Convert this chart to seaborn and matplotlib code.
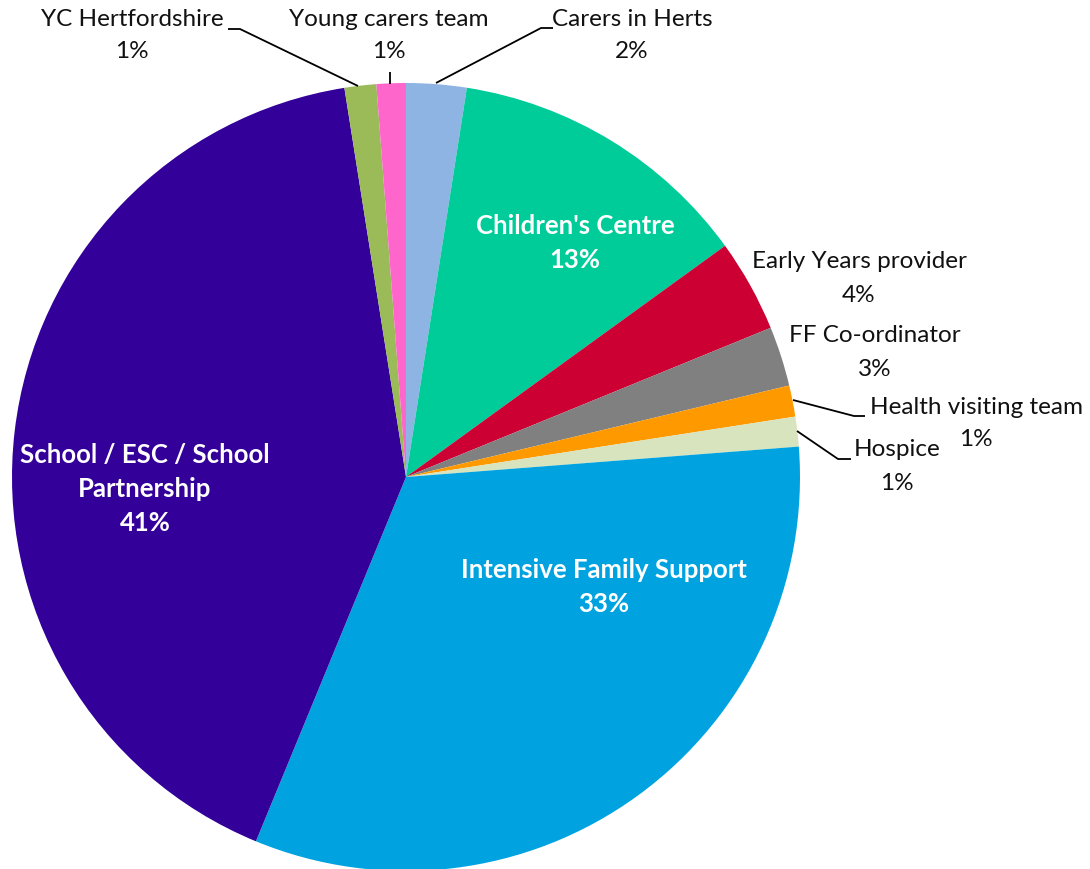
import matplotlib
matplotlib.use("Agg")
import matplotlib.pyplot as plt
import seaborn as sns

categories = ["Carers in Herts", "Children's Centre", "Early Years provider", "FF Co-ordinator",
              "Health visiting team", "Hospice", "Intensive Family Support",
              "School / ESC / School\nPartnership", "YC Hertfordshire", "Young carers team"]
values = [2.47, 12.55, 3.8, 2.45, 1.28, 1.22, 32.45, 41.28, 1.3, 1.2]
pct_labels = ["2%", "13%", "4%", "3%", "1%", "1%", "33%", "41%", "1%", "1%"]
colors = ["#8EB4E3", "#00CC99", "#CC0033", "#808080", "#FF9900", "#D7E4BD",
          "#00A3E0", "#330099", "#9BBB59", "#FF66CC"]

sns.set_theme(style="white")
plt.rcParams["font.family"] = ["Lato", "DejaVu Sans"]

W, H = 1090, 869
fig = plt.figure(figsize=(W / 100, H / 100), dpi=100)
ax = fig.add_axes([0, 0, 1, 1])

cx, cy, r = 406, 477, 394
wedges, _ = ax.pie(values, colors=colors, startangle=90, counterclock=False,
                   center=(cx, H - cy), radius=r, frame=False,
                   wedgeprops=dict(linewidth=0))
# flip wedges into a y-down coordinate system
for w in wedges:
    w.set_center((cx, cy))
    t1, t2 = w.theta1, w.theta2
    w.set_theta1(-t2)
    w.set_theta2(-t1)
ax.set_xlim(0, W)
ax.set_ylim(H, 0)
ax.set_aspect("equal")
ax.axis("off")

fs_in = 18.5
fs_out = 17.5
inside = {1: (575, 243), 6: (604, 587), 7: (145, 489)}
for i, (x, y) in inside.items():
    ax.text(x, y, f"{categories[i]}\n{pct_labels[i]}", ha="center", va="center",
            color="white", fontsize=fs_in, fontweight="bold", linespacing=1.5)

# outside labels: (x centre, y of first line, y of second line)
outside = {0: (632, 20, 52), 2: (859, 262, 295), 3: (875, 336, 369),
           4: (976, 408, 440), 5: (897, 450, 483),
           8: (132, 20, 52), 9: (389, 20, 52)}
for i, (x, y1, y2) in outside.items():
    ax.text(x, y1, categories[i], ha="center", va="center",
            color="#111111", fontsize=fs_out)
    ax.text(x, y2, pct_labels[i], ha="center", va="center",
            color="#111111", fontsize=fs_out)

lk = dict(color="black", linewidth=1.3, solid_capstyle="butt")
ax.plot([228, 240, 358], [29, 29, 86], **lk)
ax.plot([390, 390], [72, 84], **lk)
ax.plot([553, 541, 436], [28, 28, 83], **lk)
ax.plot([793, 854, 865], [400, 416, 416], **lk)
ax.plot([797, 838, 851], [431, 459, 459], **lk)

fig.savefig("out.png", dpi=100, facecolor="white")
